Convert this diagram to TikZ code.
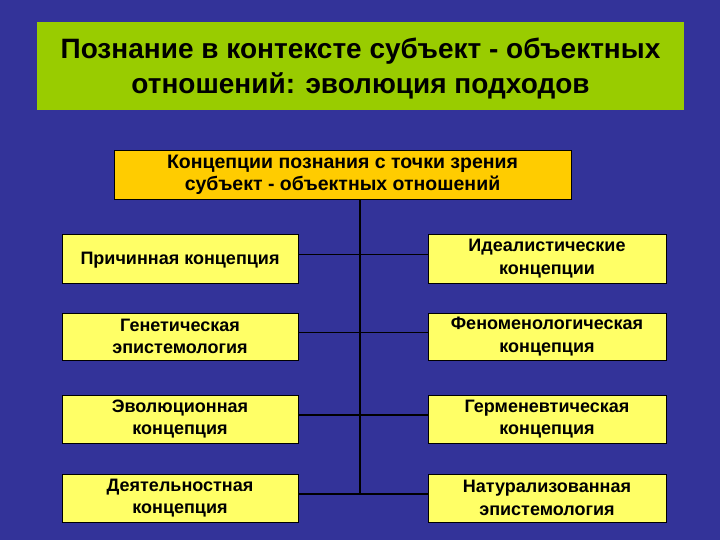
\documentclass[tikz,border=0pt]{standalone}
\usepackage{fontspec}
\setmainfont{Liberation Sans}
\usetikzlibrary {positioning}

\definecolor{slideblue}{HTML}{333399}
\definecolor{titlegreen}{HTML}{99CC00}
\definecolor{headorange}{HTML}{FFCC00}
\definecolor{boxyellow}{HTML}{FFFF66}

\tikzset{
	conceptbox/.style={draw=black, line width=0.8pt, fill=boxyellow, align=center,
		font=\fontsize{18}{22.5}\selectfont\bfseries, inner sep=0pt},
	leftbox/.style={conceptbox, minimum width=236pt},
	rightbox/.style={conceptbox, minimum width=238pt},
	link/.style={draw=black, line width=1.6pt}
}

\begin{document}
\begin{tikzpicture}[x=1pt, y=-1pt]
	\fill[slideblue] (0,0) rectangle (720,540);
	\useasboundingbox (0,0) rectangle (720,540);
	% title
	\fill[titlegreen] (37,22) rectangle (684,110);
	\node[align=center, font=\fontsize{28}{35}\selectfont\bfseries] (title) at (360.5,69)
		{Познание в контексте субъект - объектных\\отношений: эволюция подходов};
	\node[conceptbox, fill=headorange, minimum width=457pt, minimum height=49pt,
		font=\fontsize{19.5}{22}\selectfont\bfseries] (head) at (342.5,174.5)
		{Концепции познания с точки зрения\\субъект - объектных отношений};
	% left column
	\node[leftbox, minimum height=49pt, text depth=-4pt] (l1) at (180,258.5) {Причинная концепция};
	\node[leftbox, minimum height=47pt] (l2) at (180,336.5) {Генетическая\\эпистемология};
	\node[leftbox, minimum height=48pt] (l3) at (180,419) {Эволюционная\\концепция};
	\node[leftbox, minimum height=48pt] (l4) at (180,498) {Деятельностная\\концепция};
	% right column
	\node[rightbox, minimum height=49pt] (r1) at (547,258.5) {Идеалистические\\концепции};
	\node[rightbox, minimum height=47pt] (r2) at (547,336.5) {Феноменологическая\\концепция};
	\node[rightbox, minimum height=48pt] (r3) at (547,419) {Герменевтическая\\концепция};
	\node[rightbox, minimum height=48pt] (r4) at (547,498) {Натурализованная\\эпистемология};
	% connectors
	\coordinate (spine) at (360,494);
	\draw[link] (head.south -| spine) -- (spine);
	\foreach \i in {1,...,4}
		\draw[link] ([yshift=4pt]l\i.east) -- ([yshift=4pt]r\i.west);
\end{tikzpicture}
\end{document}
